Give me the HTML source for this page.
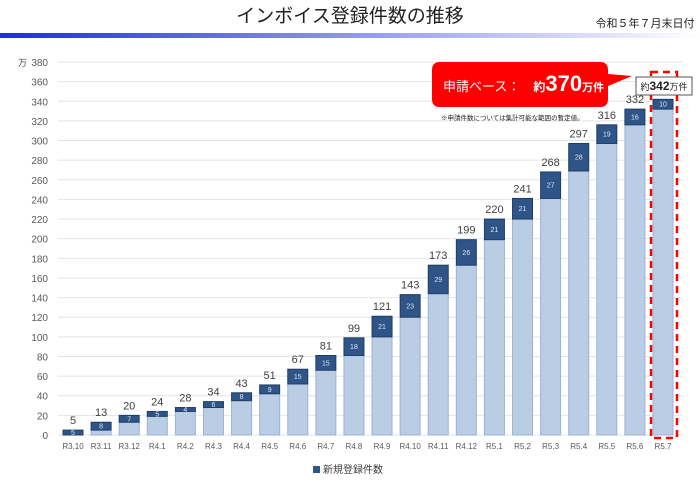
<!DOCTYPE html>
<html><head><meta charset="utf-8"><style>
body{margin:0;background:#fff;width:700px;height:484px;overflow:hidden;font-family:"Liberation Sans","Noto Sans CJK JP",sans-serif}
</style></head><body>
<svg id="c" width="700" height="484" xmlns="http://www.w3.org/2000/svg" font-family="Liberation Sans, Noto Sans CJK JP, sans-serif">
<defs><linearGradient id="g" x1="0" x2="1"><stop offset="0" stop-color="#1a2ee0"/><stop offset="0.5" stop-color="#8f96f0"/><stop offset="1" stop-color="#ffffff"/></linearGradient></defs>
<text x="350" y="22" font-size="19" text-anchor="middle" fill="#222">インボイス登録件数の推移</text>
<text x="645" y="27" font-size="11" text-anchor="middle" fill="#222">令和５年７月末日付</text>
<rect x="0" y="33" width="700" height="5" fill="url(#g)"/>
<text x="18" y="66" font-size="9" fill="#444">万</text>
</svg>
<script>
(function(){
const s=document.getElementById('c'),NS='http://www.w3.org/2000/svg';
function el(t,a,txt){const e=document.createElementNS(NS,t);for(const k in a)e.setAttribute(k,a[k]);if(txt!=null)e.textContent=txt;s.appendChild(e);return e;}
const y0=435,sc=(435-62)/380;
for(let v=0;v<=380;v+=20){const y=y0-v*sc;el('line',{x1:58,x2:682,y1:y,y2:y,stroke:'#e4e4e4','stroke-width':1});el('text',{x:48,y:y+4,'font-size':10,'text-anchor':'end',fill:'#595959'},v);}
const cats=['R3.10','R3.11','R3.12','R4.1','R4.2','R4.3','R4.4','R4.5','R4.6','R4.7','R4.8','R4.9','R4.10','R4.11','R4.12','R5.1','R5.2','R5.3','R5.4','R5.5','R5.6','R5.7'];
const tot=[5,13,20,24,28,34,43,51,67,81,99,121,143,173,199,220,241,268,297,316,332,342];
const tops=[5,8,7,5,4,6,8,9,15,15,18,21,23,29,26,21,21,27,28,19,16,10];
const dx=(663-73)/21;
cats.forEach((c,i)=>{const cx=73+i*dx,w=20,x=cx-w/2;const b=tot[i]-tops[i];
const yb=y0-b*sc,yt=y0-tot[i]*sc;
el('rect',{x:x,y:yb,width:w,height:y0-yb,fill:'#b9cde5',stroke:'#9ab3d5','stroke-width':1});
el('rect',{x:x,y:yt,width:w,height:yb-yt,fill:'#2f5487',stroke:'#1f3d66','stroke-width':1});
el('text',{x:cx,y:(yt+yb)/2+2.5,'font-size':7,'text-anchor':'middle',fill:'#dde6f2'},tops[i]);
if(i<21)el('text',{x:cx,y:yt-6,'font-size':11,'text-anchor':'middle',fill:'#404040'},tot[i]);
el('text',{x:cx,y:449,'font-size':8,'text-anchor':'middle',fill:'#595959'},c);
});
el('rect',{x:651,y:72,width:26,height:366,fill:'none',stroke:'#f00','stroke-width':2.5,'stroke-dasharray':'7,5'});
el('rect',{x:636,y:77,width:56,height:18,fill:'#fff',stroke:'#555','stroke-width':1});
const t=el('text',{x:664,y:90,'font-size':9,'text-anchor':'middle',fill:'#222'});
t.innerHTML='約<tspan font-size="12" font-weight="bold">342</tspan>万件';
el('path',{d:'M440,62 H600 Q608,62 608,70 V74 L632,76 L608,86 V99 Q608,107 600,107 H440 Q432,107 432,99 V70 Q432,62 440,62 Z',fill:'#ff0000'});
const t2=el('text',{x:443,y:91,'font-size':13,fill:'#fff'});
t2.innerHTML='申請ベース：　<tspan font-weight="bold" font-size="12">約</tspan><tspan font-weight="bold" font-size="22">370</tspan><tspan font-weight="bold" font-size="11">万件</tspan>';
el('text',{x:441,y:120,'font-size':6.5,fill:'#222'},'※申請件数については集計可能な範囲の暫定値。');
el('rect',{x:313,y:466,width:7,height:7,fill:'#2f5487'});
el('text',{x:323,y:473,'font-size':10,fill:'#404040'},'新規登録件数');
})();
</script>
</body></html>
